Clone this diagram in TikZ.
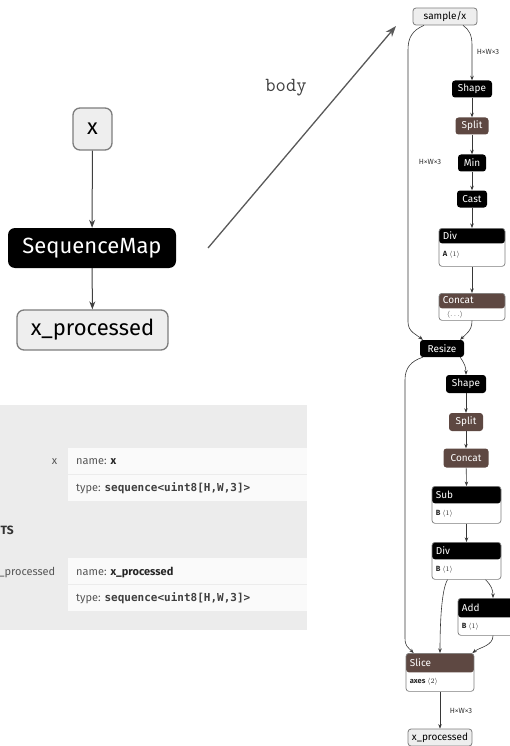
\documentclass[tikz,border=0pt]{standalone}
\usepackage{fontspec}
\setmainfont{Fira Sans}
\newfontfamily\codefont{DejaVu Sans Mono}
\usetikzlibrary{arrows.meta,calc}

\definecolor{opbrown}{RGB}{94,72,66}
\definecolor{iofill}{RGB}{238,238,238}
\definecolor{ioborder}{RGB}{125,125,125}
\definecolor{panelbg}{RGB}{236,236,236}
\definecolor{rowbg}{RGB}{250,250,250}
\definecolor{edgecol}{RGB}{55,55,55}
\definecolor{proptext}{RGB}{85,85,85}

\tikzset{
  smallfont/.style={font=\fontsize{10}{12}\selectfont},
  ionode/.style={draw=ioborder, fill=iofill, rounded corners=3pt, line width=0.8pt,
    smallfont, inner sep=0pt, minimum height=17pt},
  opnode/.style={fill=black, text=white, rounded corners=3pt, smallfont,
    inner sep=0pt, minimum height=17pt},
  brownop/.style={opnode, fill=opbrown},
  blockframe/.style={draw=ioborder, fill=white, rounded corners=3pt, line width=0.7pt, inner sep=0pt},
  blocktitle/.style={text=white, smallfont, inner sep=0pt},
  blockattr/.style={text=black!85, font=\fontsize{7.5}{9}\selectfont, inner sep=0pt},
  edgelabel/.style={font=\fontsize{7.5}{9}\selectfont, text=black!80, inner sep=0pt},
  edge/.style={draw=edgecol, line width=0.6pt, -{Stealth[length=4.5pt,width=3.5pt]}},
  bigio/.style={draw=ioborder, fill=iofill, rounded corners=7pt, line width=1.3pt,
    font=\fontsize{22}{26}\selectfont, inner sep=0pt},
  bigop/.style={fill=black, text=white, rounded corners=7pt,
    font=\fontsize{22}{26}\selectfont, inner sep=0pt},
  bigedge/.style={draw=black!75, line width=1pt, -{Stealth[length=8pt,width=6pt]}},
  bodyarrow/.style={draw=black!65, line width=1.3pt, -{Stealth[length=11pt,width=8pt]}},
  propfont/.style={font=\fontsize{11}{13}\selectfont, text=proptext, inner sep=0pt},
}

% operator block with a coloured title bar and an attribute line
\newcommand\opblock[9]{%
  \node[blockframe, minimum width=#4pt, minimum height=#6pt, anchor=north,
        path picture={\fill[#7] (path picture bounding box.north west) rectangle
          ([yshift=-#5pt]path picture bounding box.north east);}] (#1) at (#2,#3) {};
  \node[blocktitle, anchor=west] (#1-title) at ($(#1.north west)+(4,0.5*#5)$) {#8};
  \node[blockattr, anchor=west] (#1-attr) at ($(#1.south west)+(4,-0.5*#6+0.5*#5)$) {#9};
}

\begin{document}
\begin{tikzpicture}[x=1pt,y=-1pt]
\useasboundingbox (0,0) rectangle (509,746);

% ---------- outer graph ----------
\node[bigio, minimum width=39pt, minimum height=42pt] (xin) at (92.5,129) {x};
\node[bigop, minimum width=168pt, minimum height=40pt] (seqmap) at (92,248) {SequenceMap};
\node[bigio, minimum width=151pt, minimum height=40pt] (xprocL) at (92.5,330) {x\_processed};
\draw[bigedge] (xin) -- (seqmap);
\draw[bigedge] (seqmap) -- (xprocL);

% ---------- link to the loop body ----------
\coordinate (bodystart) at (208,248);
\coordinate (bodyend) at (396,26);
\draw[bodyarrow] (bodystart) -- (bodyend);
\node[font=\ttfamily\fontsize{20}{22}\selectfont, text=black!75, inner sep=0pt] (bodylbl) at (286,88) {body};

% ---------- property panel ----------
\fill[panelbg] (0,405) rectangle (307,630);
\fill[rowbg] (68,448) rectangle (307,473.5);
\fill[rowbg] (68,474.5) rectangle (307,501);
\fill[rowbg] (68,558) rectangle (307,583.5);
\fill[rowbg] (68,584.5) rectangle (307,611);

\node[propfont, anchor=east] (inlbl) at (57.5,462) {x};
\node[propfont, anchor=west] (inname) at (76,462) {name: \textcolor{black!85}{\bfseries x}};
\node[propfont, anchor=west] (intype) at (76,488) {type: \textcolor{black!75}{\codefont\bfseries sequence<uint8[H,W,3]>}};
\node[propfont, anchor=west, text=black!80, font=\fontsize{12}{14}\selectfont\bfseries] (outhead) at (0.5,530) {TS};
\node[propfont, anchor=east] (outlbl) at (55.5,573) {\_processed};
\node[propfont, anchor=west] (outname) at (76,573) {name: \textcolor{black!85}{\bfseries x\_processed}};
\node[propfont, anchor=west] (outtype) at (76,598) {type: \textcolor{black!75}{\codefont\bfseries sequence<uint8[H,W,3]>}};

% ---------- loop body graph ----------
\node[ionode, minimum width=64pt] (samplex) at (445,16.5) {sample/x};
\node[opnode, minimum width=40pt] (shapeA) at (472,89) {Shape};
\node[brownop, minimum width=33pt] (splitA) at (472,126) {Split};
\node[opnode, minimum width=28pt] (minA) at (472,163) {Min};
\node[opnode, minimum width=30pt] (castA) at (472,199) {Cast};
\opblock{divA}{472}{228}{66}{15}{38}{black}{Div}{\textbf{A} $\langle1\rangle$}
\opblock{concatA}{472}{293}{66}{15}{27}{opbrown}{Concat}{\hspace*{4pt}$\langle\ldots\rangle$}
\node[opnode, minimum width=44pt] (resize) at (442,348.5) {Resize};
\node[opnode, minimum width=40pt, minimum height=18pt] (shapeB) at (466,384) {Shape};
\node[brownop, minimum width=34pt, minimum height=18pt] (splitB) at (466,422) {Split};
\node[brownop, minimum width=45pt, minimum height=19pt] (concatB) at (466,458) {Concat};
\opblock{subB}{466.5}{486}{69}{17}{37}{black}{Sub}{\textbf{B} $\langle1\rangle$}
\opblock{divB}{466.5}{542}{69}{17}{37}{black}{Div}{\textbf{B} $\langle1\rangle$}
\opblock{addB}{491}{598}{66}{19}{37}{black}{Add}{\textbf{B} $\langle1\rangle$}
\opblock{slice}{440}{653}{68}{19}{38}{opbrown}{Slice}{\textbf{axes} $\langle2\rangle$}
\node[ionode, minimum width=64pt] (xout) at (440,737.5) {x\_processed};

% connectors of the body graph
\draw[edge] ([xshift=18pt]samplex.south) .. controls +(6,4) and +(0,-10) .. (472,45) -- (shapeA.north);
\node[edgelabel] (hwA) at (488,52) {H×W×3};
\draw[edge] ([xshift=-21pt]samplex.south) .. controls +(-12,5) and +(0,-12) .. (408,50)
  -- (408,322) .. controls +(0,10) and +(-6,-5) .. ([xshift=3pt]resize.north west);
\node[edgelabel] (hwB) at (430,162) {H×W×3};
\draw[edge] (shapeA) -- (splitA);
\draw[edge] (splitA) -- (minA);
\draw[edge] (minA) -- (castA);
\draw[edge] (castA) -- (divA.north);
\draw[edge] (divA.south) -- (concatA.north);
\draw[edge] (concatA.south) .. controls +(0,10) and +(6,-6) .. ([xshift=-4pt]resize.north east);

\draw[edge] ([xshift=-4pt]resize.south east) .. controls +(4,6) and +(0,-8) .. (shapeB.north);
\draw[edge] ([xshift=3pt]resize.south west) .. controls +(-12,4) and +(0,-12) .. (405,380)
  -- (405,638) .. controls +(0,8) and +(-6,-6) .. ([xshift=8pt]slice.north west);
\draw[edge] (shapeB) -- (splitB);
\draw[edge] (splitB) -- (concatB);
\draw[edge] (concatB) -- (subB.north);
\draw[edge] (subB.south) -- (divB.north);
\draw[edge] ([xshift=-19pt]divB.south) .. controls +(-6,10) and +(0,-30) .. (slice.north);
\draw[edge] ([xshift=19pt]divB.south) .. controls +(6,6) and +(0,-8) .. ([xshift=2pt]addB.north);
\draw[edge] ([xshift=2pt]addB.south) .. controls +(0,10) and +(8,-6) .. ([xshift=-2pt]slice.north east);
\draw[edge] (slice.south) -- (xout.north);
\node[edgelabel] (hwC) at (461,711) {H×W×3};
\end{tikzpicture}
\end{document}
